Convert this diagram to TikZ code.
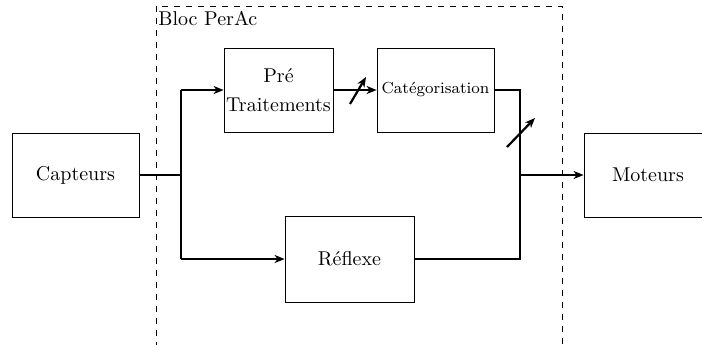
\documentclass[tikz,border=0pt]{standalone}
\usetikzlibrary{arrows.meta}
\begin{document}
\begin{tikzpicture}[x=0.5pt,y=-0.5pt,
  blk/.style={draw,thin,rectangle,inner sep=0pt,minimum height=42pt,align=center},
  wire/.style={line width=1.1pt},
  arr/.style={line width=1.1pt,-{Stealth[length=5pt,width=4pt,inset=1.5pt]}}]
\useasboundingbox (0,0) rectangle (702,344);
\clip (0,0) rectangle (702,344);
\draw[dashed,thin] (156,6) rectangle (562,380);
\node[anchor=north west,inner sep=1pt] (lbl) at (156,9) {Bloc PerAc};
\node[blk,minimum width=63.5pt] (cap) at (75.5,175) {Capteurs};
\node[blk,minimum width=54.5pt] (pre) at (278.5,90) {Pré\\[2.5pt]Traitements};
\node[blk,minimum width=58.5pt,font=\footnotesize] (cat) at (435.5,90) {Catégorisation};
\node[blk,minimum width=64.5pt,minimum height=43pt] (ref) at (349.5,259) {Réflexe};
\node[blk,minimum width=64pt] (mot) at (648,175) {Moteurs};
\coordinate (j1) at (181,175);
\coordinate (j1t) at (181,90);
\coordinate (j1b) at (181,259);
\coordinate (j2) at (520,175);
\coordinate (j2t) at (520,90);
\coordinate (j2b) at (520,259);
\draw[wire] (cap.east) -- (j1);
\draw[wire] (j1t) -- (j1b);
\draw[arr] (j1t) -- (pre.west);
\draw[arr] (j1b) -- (ref.west);
\draw[arr] (pre.east) -- (cat.west);
\draw[wire] (cat.east) -- (j2t) -- (j2b) -- (ref.east);
\draw[arr] (j2) -- (mot.west);
\coordinate (w1a) at (350,104);
\coordinate (w1b) at (366,77);
\coordinate (w2a) at (507,147);
\coordinate (w2b) at (535,118);
\draw[arr] (w1a) -- (w1b);
\draw[arr] (w2a) -- (w2b);
\end{tikzpicture}
\end{document}
